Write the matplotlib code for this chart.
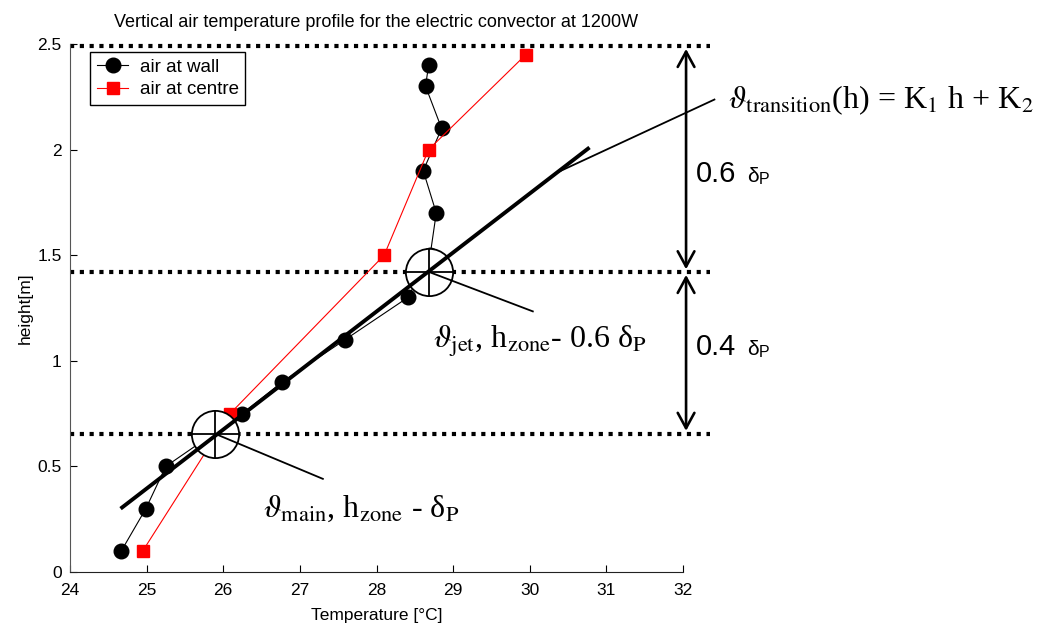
import numpy as np
import matplotlib
matplotlib.use('Agg')
import matplotlib.pyplot as plt

plt.rcParams.update({
    'font.family': 'Liberation Sans',
    'font.size': 12,
    'xtick.direction': 'in',
    'ytick.direction': 'in',
    'xtick.major.size': 5,
    'ytick.major.size': 5,
})

# ─── Data ───
wall_T = [24.67, 24.99, 25.25, 26.25, 26.77, 27.59, 28.41, 28.70, 28.78, 28.61, 28.85, 28.64, 28.68]
wall_h = [0.10, 0.30, 0.50, 0.75, 0.90, 1.10, 1.30, 1.50, 1.70, 1.90, 2.10, 2.30, 2.40]
centre_T = [24.95, 26.09, 28.10, 28.68, 29.95]
centre_h = [0.10, 0.75, 1.50, 2.00, 2.45]

# transition fit line (end points)
fit_T = [24.66, 30.78]
fit_h = [0.30, 2.01]

# zone boundaries and marked points
zone_h = [2.49, 1.42, 0.655]
point_T = [25.89, 28.69]
point_h = [0.655, 1.42]

x_ticks = [24, 25, 26, 27, 28, 29, 30, 31, 32]
y_ticks = [0, 0.5, 1, 1.5, 2, 2.5]
y_ticklabels = ['0', '0.5', '1', '1.5', '2', '2.5']

W, H = 1054, 628
fig = plt.figure(figsize=(W / 100, H / 100), dpi=100)
ax = fig.add_axes([70 / W, 1 - 572 / H, (683 - 70) / W, (572 - 44) / H])


def fx(x):
    return x / W


def fy(y):
    return 1 - y / H


# ── dotted zone lines ──
for h in zone_h:
    ax.plot([24, 32.35], [h, h], color='black', lw=3.0, ls=(0, (1, 1.35)),
            dash_capstyle='butt', clip_on=False, zorder=2)

# ── measured profiles ──
ax.plot(wall_T, wall_h, color='black', lw=0.8, marker='o', markersize=10.5,
        label='air at wall', zorder=3)
ax.plot(centre_T, centre_h, color='red', lw=0.8, marker='s', markersize=8.5,
        label='air at centre', zorder=3)

# ── circled points ──
ax.plot(point_T, point_h, ls='none', marker='o', markersize=34, mfc='white',
        mec='black', mew=1.3, zorder=5)
ax.plot(point_T, point_h, ls='none', marker='+', markersize=34, mec='black',
        mew=1.3, zorder=6)

# ── fit line ──
ax.plot(fit_T, fit_h, color='black', lw=2.8, solid_capstyle='butt', zorder=7, clip_on=False)

# ── leader lines ──
ax.plot([32.41, 30.39], [2.237, 1.897], color='black', lw=1.3, clip_on=False, zorder=7)
ax.plot([point_T[1], 30.04], [point_h[1], 1.234], color='black', lw=1.3, clip_on=False, zorder=7)
ax.plot([point_T[0], 27.30], [point_h[0], 0.441], color='black', lw=1.3, clip_on=False, zorder=7)

# ── double arrows ──
arrow_kw = dict(arrowstyle='<->,head_length=0.55,head_width=0.3', color='black',
                lw=1.9, mutation_scale=20, shrinkA=2, shrinkB=2)
ax.annotate('', xy=(32.04, zone_h[0]), xytext=(32.04, zone_h[1]),
            arrowprops=arrow_kw, annotation_clip=False)
ax.annotate('', xy=(32.04, zone_h[1]), xytext=(32.04, zone_h[2]),
            arrowprops=arrow_kw, annotation_clip=False)

# ── axes styling ──
ax.set_xlim(24, 32)
ax.set_ylim(0, 2.5)
ax.set_xticks(x_ticks)
ax.set_yticks(y_ticks)
ax.set_yticklabels(y_ticklabels)
ax.spines['top'].set_visible(False)
ax.spines['right'].set_visible(False)
ax.spines['left'].set_color('#555555')
ax.spines['bottom'].set_color('#222222')
ax.tick_params(labelsize=12.5)
ax.tick_params(axis='x', pad=8)
ax.tick_params(axis='y', pad=6)
ax.set_xlabel('Temperature [°C]', fontsize=12.5, labelpad=7)
ax.set_ylabel('height[m]', fontsize=12.5, labelpad=3)
ax.set_title('Vertical air temperature profile for the electric convector at 1200W',
             fontsize=13, pad=12)

leg = ax.legend(loc='upper left', bbox_to_anchor=(20 / 613, 1 - 8 / 528), fancybox=False,
                edgecolor='black', framealpha=1, fontsize=13.5, handlelength=1.7,
                borderpad=0.35, labelspacing=0.3, handletextpad=0.6, borderaxespad=0)
leg.get_frame().set_linewidth(1.0)

# ── annotations ──
serif = dict(family='Liberation Serif', math_fontfamily='stix', va='baseline', ha='left')
fig.text(fx(728), fy(108), r'$\vartheta_{\rm transition}$(h) = K$_1$ h + K$_2$',
         fontsize=23, **serif)
fig.text(fx(433), fy(348), r'$\vartheta_{\rm jet}$, h$_{\rm zone}$- 0.6 δ$_{\rm P}$',
         fontsize=23, **serif)
fig.text(fx(263), fy(517), r'$\vartheta_{\rm main}$, h$_{\rm zone}$ - δ$_{\rm P}$',
         fontsize=23, **serif)

for lab, base in [('0.6', 182), ('0.4', 355)]:
    fig.text(fx(696), fy(base), lab, fontsize=21, va='baseline', ha='left')
    fig.text(fx(747), fy(base), 'δ', fontsize=15, va='baseline', ha='left')
    fig.text(fx(759), fy(base + 2), 'P', fontsize=11.5, va='baseline', ha='left')

fig.savefig('out.png', dpi=100)
